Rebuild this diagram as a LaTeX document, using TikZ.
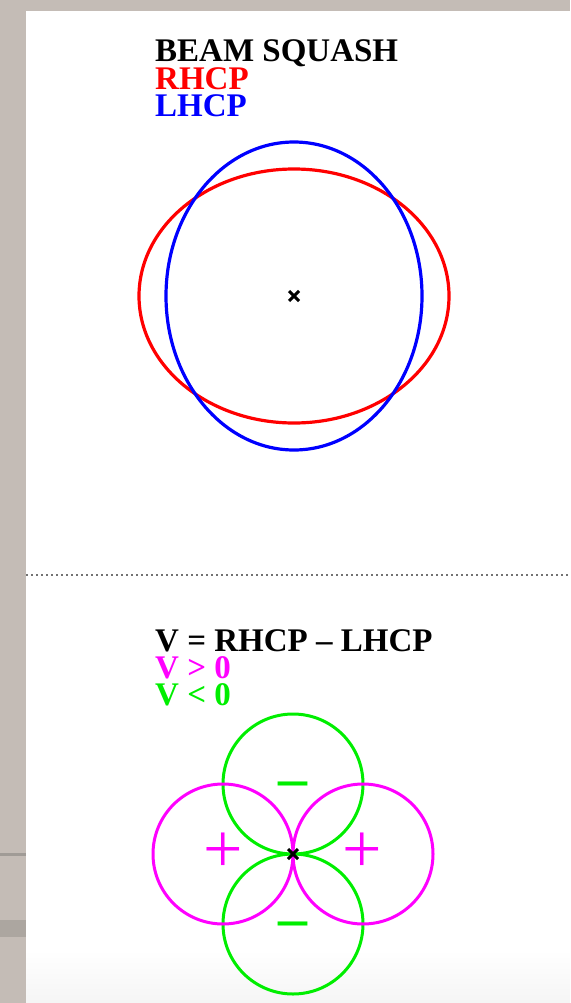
\documentclass[tikz,border=0pt]{standalone}
\usepackage{fontspec}
\setmainfont{Liberation Serif}
\usetikzlibrary{positioning}
\definecolor{framegray}{RGB}{196,188,182}
\definecolor{framedark}{RGB}{160,155,150}
\definecolor{framebar}{RGB}{172,166,160}
\definecolor{rhcpred}{RGB}{255,0,0}
\definecolor{lhcpblue}{RGB}{0,0,255}
\definecolor{vposmag}{RGB}{255,0,255}
\definecolor{vneggreen}{RGB}{0,238,0}

\begin{document}
\begin{tikzpicture}[
  x=1pt, y=-1pt,
  legend/.style={font=\fontsize{33}{27}\selectfont\bfseries, inner sep=0pt,
    align=left, anchor=north west},
  beam/.style={line width=3.2pt},
  lobe/.style={line width=3pt},
  cmark/.style={line width=3pt},
  plussign/.style={font=\fontsize{70}{70}\selectfont, inner sep=0pt, anchor=base, text=vposmag},
  minussign/.style={font=\fontsize{58}{58}\selectfont\bfseries, inner sep=0pt, anchor=base, text=vneggreen},
  divider/.style={black!55, line width=2pt, dash pattern=on 2pt off 3pt}
]
\useasboundingbox (0,0) rectangle (570,1003);

% window frame
\fill[framegray] (0,0) rectangle (570,11);
\fill[framegray] (0,0) rectangle (26,1003);
\fill[framedark] (0,853) rectangle (26,856);
\fill[framebar] (0,920) rectangle (26,937);
\shade[top color=white, bottom color=black!4] (26,950) rectangle (570,1003);

% upper panel: beam squash
\node[legend] (beamkey) at (155,39.2)
  {BEAM SQUASH\\\textcolor{rhcpred}{RHCP}\\\textcolor{lhcpblue}{LHCP}};

\coordinate (beamc) at (294,296);
\draw[beam, rhcpred] (beamc) ellipse [x radius=155, y radius=127];
\draw[beam, lhcpblue] (beamc) ellipse [x radius=128, y radius=154];
\draw[cmark] ([shift={(-5,-5)}]beamc) -- ([shift={(5,5)}]beamc)
             ([shift={(-5,5)}]beamc) -- ([shift={(5,-5)}]beamc);

\draw[divider] (26,575) -- (570,575);

% lower panel: V = RHCP - LHCP
\node[legend] (vkey) at (155,629.5)
  {V = RHCP – LHCP\\\textcolor{vposmag}{V > 0}\\\textcolor{vneggreen}{V < 0}};

\coordinate (lobec) at (293,854);
\draw[lobe, vneggreen] (293,784) circle [radius=70];
\draw[lobe, vneggreen] (293,924) circle [radius=70];
\draw[lobe, vposmag] (223,854) circle [radius=70];
\draw[lobe, vposmag] (363,854) circle [radius=70];
\draw[cmark] ([shift={(-5,-5)}]lobec) -- ([shift={(5,5)}]lobec)
             ([shift={(-5,5)}]lobec) -- ([shift={(5,-5)}]lobec);

\node[plussign] (plusl) at (223,872) {+};
\node[plussign] (plusr) at (362,872) {+};
\node[minussign] (minust) at (293,797) {–};
\node[minussign] (minusb) at (293,937) {–};
\end{tikzpicture}
\end{document}
